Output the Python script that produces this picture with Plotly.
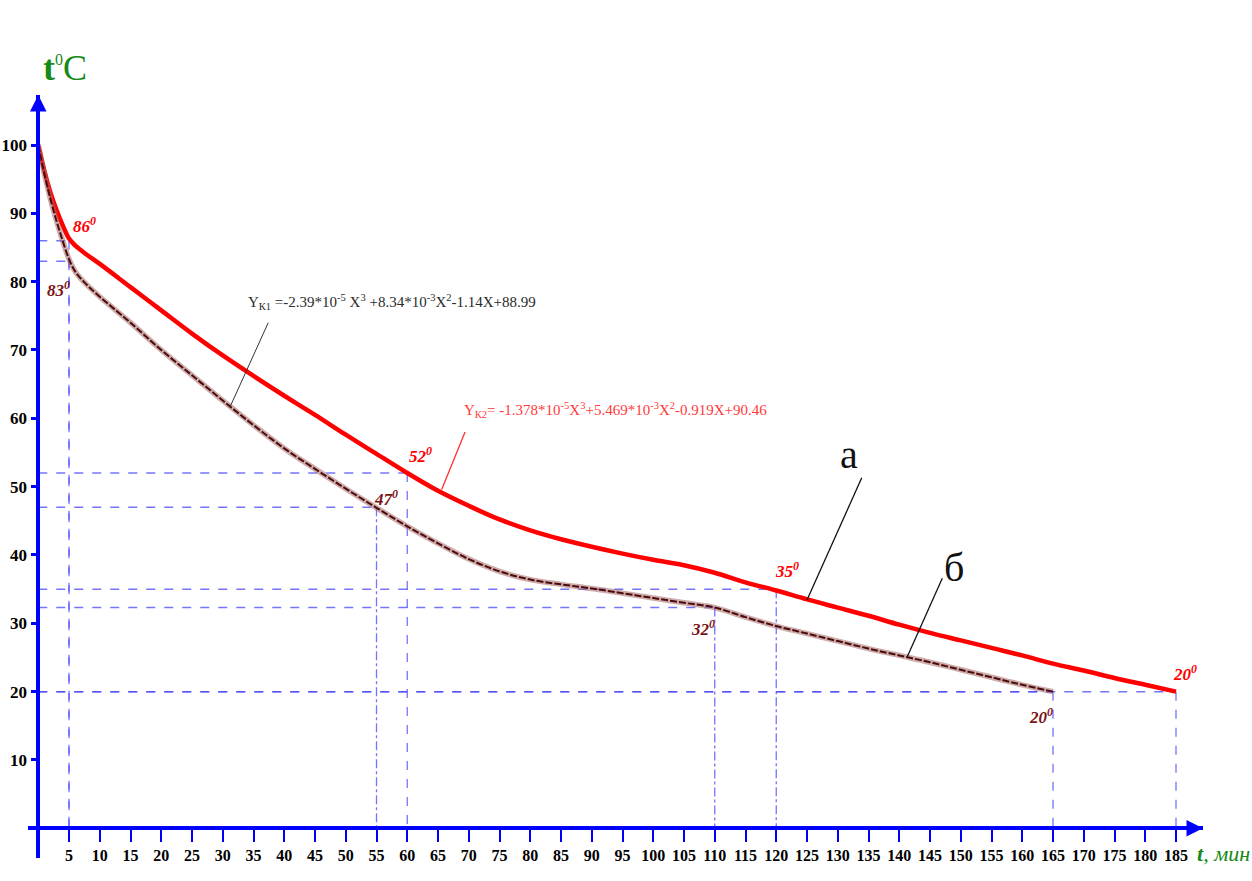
import plotly.graph_objects as go

# ---------------- data ----------------
red_t = [0, 1, 2, 3, 4, 5, 6, 7.5, 10, 15, 20, 25, 30, 35, 40, 45, 50, 55, 60, 65, 70, 75, 80, 85, 90, 95,
         100, 105, 110, 115, 120, 125, 130, 135, 140, 145, 150, 155, 160, 165, 170, 175, 180, 185]
red_T = [100, 96.2, 93.0, 90.4, 88.2, 86.3, 85.3, 84.2, 82.6, 79.2, 75.8, 72.4, 69.2, 66.2, 63.3, 60.5,
         57.6, 54.8, 52, 49.4, 47.2, 45.2, 43.6, 42.3, 41.2, 40.2, 39.3, 38.5, 37.4, 36.0, 34.8, 33.5,
         32.3, 31.1, 29.8, 28.6, 27.5, 26.4, 25.3, 24.1, 23.1, 22.0, 21.0, 20.0]

brown_t = [0, 1, 2, 3, 4, 5, 6, 7.5, 10, 15, 20, 25, 30, 35, 40, 45, 50, 55, 60, 65, 70, 75, 80, 85, 90,
           95, 100, 105, 110, 115, 120, 125, 130, 135, 140, 145, 150, 155, 160, 165]
brown_T = [100, 95.8, 92.0, 88.8, 85.9, 83.3, 81.5, 79.9, 77.8, 74, 70, 66.3, 62.6, 59, 55.6, 52.6, 49.7,
           46.9, 44.2, 41.7, 39.4, 37.6, 36.4, 35.7, 35.1, 34.4, 33.7, 33.0, 32.3, 30.9, 29.6, 28.5,
           27.4, 26.3, 25.3, 24.3, 23.2, 22.1, 21.0, 20.0]

red_key_t = [5, 60, 120, 185]
red_key_T = [86, 52, 35, 20]
red_key_lbl = ["86", "52", "35", "20"]

brown_key_t = [5, 55, 110, 165]
brown_key_T = [83, 47, 32.3, 20]
brown_key_lbl = ["83", "47", "32", "20"]

x_ticks = list(range(5, 190, 5))
y_ticks = list(range(10, 101, 10))

formula_k1 = "Y<sub>К1</sub> =-2.39*10<sup>-5</sup> X<sup>3</sup> +8.34*10<sup>-3</sup>X<sup>2</sup>-1.14X+88.99"
formula_k2 = "Y<sub>К2</sub>= -1.378*10<sup>-5</sup>X<sup>3</sup>+5.469*10<sup>-3</sup>X<sup>2</sup>-0.919X+90.46"

# ---------------- layout geometry ----------------
FW, FH = 1252, 881
L, R, T, B = 28, 49, 95, 23
X0PX, XS = 38.25, 6.15      # pixel of t=0, pixels per minute
Y0PX, YS = 828.3, 6.833     # pixel of T=0, pixels per degree
x_range = [(L - X0PX) / XS, (FW - R - X0PX) / XS]
y_range = [(Y0PX - (FH - B)) / YS, (Y0PX - T) / YS]
PW, PH = FW - L - R, FH - T - B


def pxx(p):
    return (p - L) / PW


def pxy(p):
    return 1 - (p - T) / PH


SERIF = "Liberation Serif"
BLUE = "#0000ff"
GUIDE = "rgba(70,70,255,0.75)"
RED = "#ff0000"
BROWN = "#4d0a0a"
BROWN_LBL = "#7a1414"
GREEN = "#168a16"

fig = go.Figure()

# red curve (a)
fig.add_trace(go.Scatter(x=red_t, y=red_T, mode="lines", line=dict(color=RED, width=4.5, shape="spline"),
                         hoverinfo="skip"))
# brown curve (б): halo + dark core
fig.add_trace(go.Scatter(x=brown_t, y=brown_T, mode="lines",
                         line=dict(color="rgba(165,105,105,0.55)", width=5.5, shape="spline"), hoverinfo="skip"))
fig.add_trace(go.Scatter(x=brown_t, y=brown_T, mode="lines",
                         line=dict(color=BROWN, width=2, shape="spline", dash="7px,2px"), hoverinfo="skip"))

shapes = []
# guide lines
vdash = {5: "dash", 55: "dashdot", 60: "dash", 110: "dashdot", 120: "dashdot", 165: "dash", 185: "dash"}
for kt, kT in list(zip(red_key_t, red_key_T)) + list(zip(brown_key_t, brown_key_T)):
    shapes.append(dict(type="line", xref="x", yref="y", x0=0, x1=kt, y0=kT, y1=kT, layer="below",
                       line=dict(color=GUIDE, width=1.5, dash="dash")))
    shapes.append(dict(type="line", xref="x", yref="y", x0=kt, x1=kt, y0=kT, y1=0, layer="below",
                       line=dict(color=GUIDE, width=1.3, dash=vdash.get(kt, "dash"))))

# pointer lines
shapes.append(dict(type="line", xref="x", yref="y", x0=37.4, y0=74.0, x1=31.2, y1=61.7,
                   line=dict(color="#333333", width=1)))
shapes.append(dict(type="line", xref="x", yref="y", x0=69.4, y0=58.0, x1=65.6, y1=49.6,
                   line=dict(color="#ff3030", width=1.3)))
shapes.append(dict(type="line", xref="x", yref="y", x0=133.9, y0=51.3, x1=125.0, y1=33.4,
                   line=dict(color="#111111", width=1.3)))
shapes.append(dict(type="line", xref="x", yref="y", x0=147.0, y0=36.6, x1=141.3, y1=25.1,
                   line=dict(color="#111111", width=1.3)))

ann = []
# key point labels
red_shift = [(15, 16), (13, 18), (11, 19), (9, 19)]
brown_shift = [(-11, -28), (9, 9), (-12, -20), (-12, -24)]
for (kt, kT, lb), (sx, sy) in zip(zip(red_key_t, red_key_T, red_key_lbl), red_shift):
    ann.append(dict(x=kt, y=kT, xref="x", yref="y", text=f"<b><i>{lb}<sup>0</sup></i></b>", showarrow=False,
                    xshift=sx, yshift=sy, font=dict(family=SERIF, size=17, color=RED)))
for (kt, kT, lb), (sx, sy) in zip(zip(brown_key_t, brown_key_T, brown_key_lbl), brown_shift):
    ann.append(dict(x=kt, y=kT, xref="x", yref="y", text=f"<b><i>{lb}<sup>0</sup></i></b>", showarrow=False,
                    xshift=sx, yshift=sy, font=dict(family=SERIF, size=17, color=BROWN_LBL)))

# formulas
ann.append(dict(x=pxx(246), y=pxy(302), xref="paper", yref="paper", xanchor="left", yanchor="middle",
                text=formula_k1, showarrow=False, font=dict(family=SERIF, size=15, color="#2a2a2a")))
ann.append(dict(x=pxx(462), y=pxy(410), xref="paper", yref="paper", xanchor="left", yanchor="middle",
                text=formula_k2, showarrow=False, font=dict(family=SERIF, size=15, color="#ff3a3a")))

# curve names
ann.append(dict(x=pxx(860), y=pxy(455), xref="paper", yref="paper", text="a", showarrow=False,
                font=dict(family=SERIF, size=40, color="#111111")))
ann.append(dict(x=pxx(966), y=pxy(567), xref="paper", yref="paper", text="б", showarrow=False,
                font=dict(family=SERIF, size=40, color="#111111")))

# axis titles
ann.append(dict(x=pxx(41), y=pxy(46), xref="paper", yref="paper",
                text="<b>t</b><sup><span style='font-size:16px'>0</span></sup>C",
                showarrow=False, font=dict(family=SERIF, size=36, color=GREEN)))
ann.append(dict(x=pxx(1195), y=pxy(853), xref="paper", yref="paper", xanchor="left", yanchor="middle",
                text="<b><i>t</i></b><i>, мин</i>", showarrow=False,
                font=dict(family=SERIF, size=22, color=GREEN)))

# axis arrowheads
ann.append(dict(x=x_range[1], y=0, xref="x", yref="y", ax=-22, ay=0, text="", showarrow=True,
                arrowhead=2, arrowsize=1.1, arrowwidth=3, arrowcolor=BLUE, standoff=0))
ann.append(dict(x=0, y=y_range[1], xref="x", yref="y", ax=0, ay=22, text="", showarrow=True,
                arrowhead=2, arrowsize=1.1, arrowwidth=3, arrowcolor=BLUE, standoff=0))

fig.update_layout(
    width=FW, height=FH, autosize=False,
    margin=dict(l=L, r=R, t=T, b=B, pad=0),
    plot_bgcolor="white", paper_bgcolor="white",
    showlegend=False,
    shapes=shapes, annotations=ann,
    xaxis=dict(range=x_range, anchor="free", position=(0 - y_range[0]) / (y_range[1] - y_range[0]),
               tickmode="array", tickvals=x_ticks, ticktext=[str(v) for v in x_ticks],
               ticks="outside", ticklen=12, tickwidth=2, tickcolor=BLUE, tickangle=0,
               showline=True, linecolor=BLUE, linewidth=3.5, showgrid=False, zeroline=False,
               automargin=False,
               tickfont=dict(family=SERIF, size=16, color="black", weight="bold")),
    yaxis=dict(range=y_range, anchor="free", position=(0 - x_range[0]) / (x_range[1] - x_range[0]),
               tickmode="array", tickvals=y_ticks, ticktext=[str(v) for v in y_ticks],
               ticks="outside", ticklen=6, tickwidth=3, tickcolor=BLUE,
               showline=True, linecolor=BLUE, linewidth=3.5, showgrid=False, zeroline=False,
               automargin=False,
               tickfont=dict(family=SERIF, size=17, color="black", weight="bold")),
)

fig.write_html("out.html", config={"displayModeBar": False},
               post_script="document.body.style.margin='0';document.body.style.overflow='hidden';")
